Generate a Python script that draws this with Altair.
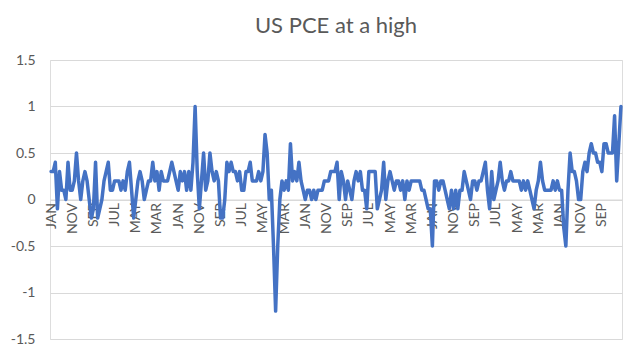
import altair as alt
import pandas as pd

months = ["JAN", "FEB", "MAR", "APR", "MAY", "JUN", "JUL", "AUG", "SEP", "OCT", "NOV", "DEC"]

pce_2000 = [0.3, 0.3, 0.4, -0.1, 0.3, 0.1, 0.1, 0.0, 0.4, 0.1, 0.1, 0.2]
pce_2001 = [0.5, 0.2, 0.0, 0.2, 0.3, 0.2, 0.0, -0.2, -0.1, 0.4, -0.2, -0.1]
pce_2002 = [0.0, 0.2, 0.3, 0.4, 0.1, 0.1, 0.2, 0.2, 0.2, 0.1, 0.2, 0.1]
pce_2003 = [0.3, 0.4, 0.1, -0.2, 0.0, 0.2, 0.3, 0.2, 0.0, 0.1, 0.2, 0.2]
pce_2004 = [0.4, 0.2, 0.3, 0.1, 0.3, 0.2, 0.2, 0.2, 0.3, 0.4, 0.3, 0.2]
pce_2005 = [0.1, 0.3, 0.2, 0.3, 0.1, 0.3, 0.1, 0.4, 1.0, 0.3, -0.1, 0.2]
pce_2006 = [0.5, 0.1, 0.2, 0.5, 0.3, 0.2, 0.3, 0.2, -0.2, -0.2, 0.0, 0.4]
pce_2007 = [0.3, 0.4, 0.3, 0.3, 0.2, 0.3, 0.1, 0.1, 0.3, 0.3, 0.4, 0.2]
pce_2008 = [0.2, 0.2, 0.3, 0.2, 0.3, 0.7, 0.5, 0.0, 0.1, -0.5, -1.2, -0.5]
pce_2009 = [0.0, 0.2, 0.1, 0.2, 0.1, 0.6, 0.2, 0.3, 0.2, 0.4, 0.2, 0.1]
pce_2010 = [0.0, 0.1, 0.1, 0.0, 0.1, 0.0, 0.1, 0.1, 0.1, 0.2, 0.2, 0.2]
pce_2011 = [0.3, 0.3, 0.3, 0.4, 0.0, 0.3, 0.2, 0.0, 0.2, 0.1, 0.0, 0.2]
pce_2012 = [0.3, 0.2, 0.3, 0.1, 0.1, -0.1, 0.3, 0.3, 0.3, 0.3, -0.1, 0.0]
pce_2013 = [0.1, 0.4, 0.0, 0.2, 0.3, 0.2, 0.1, 0.2, 0.2, 0.1, 0.2, 0.0]
pce_2014 = [0.2, 0.1, 0.2, 0.2, 0.2, 0.2, 0.2, 0.1, 0.1, 0.0, -0.1, -0.1]
pce_2015 = [-0.5, 0.2, 0.2, 0.1, 0.2, 0.2, 0.1, 0.0, -0.1, 0.1, -0.1, 0.1]
pce_2016 = [-0.1, 0.1, 0.1, 0.3, 0.2, 0.1, 0.0, 0.2, 0.2, 0.1, 0.2, 0.2]
pce_2017 = [0.3, 0.4, 0.1, -0.1, 0.3, 0.0, 0.1, 0.2, 0.4, 0.2, 0.1, 0.2]
pce_2018 = [0.2, 0.3, 0.2, 0.2, 0.2, 0.2, 0.1, 0.2, 0.1, 0.2, 0.1, 0.0]
pce_2019 = [-0.1, 0.1, 0.2, 0.4, 0.2, 0.1, 0.1, 0.1, 0.1, 0.2, 0.1, 0.2]
pce_2020 = [0.1, 0.1, -0.3, -0.5, 0.1, 0.5, 0.3, 0.3, 0.2, 0.0, 0.0, 0.3]
pce_2021 = [0.4, 0.3, 0.5, 0.6, 0.5, 0.5, 0.4, 0.4, 0.3, 0.6, 0.6, 0.5]
pce_2022 = [0.5, 0.5, 0.9, 0.2, 0.6, 1.0]

values = (pce_2000 + pce_2001 + pce_2002 + pce_2003 + pce_2004 + pce_2005 + pce_2006
          + pce_2007 + pce_2008 + pce_2009 + pce_2010 + pce_2011 + pce_2012 + pce_2013
          + pce_2014 + pce_2015 + pce_2016 + pce_2017 + pce_2018 + pce_2019 + pce_2020
          + pce_2021 + pce_2022)

n = len(values)
df = pd.DataFrame({
    "idx": list(range(n)),
    "pce": values,
    "month": [months[i % 12] for i in range(n)],
})

tick_idx = list(range(0, n, 10))
y_ticks = [-1.5, -1, -0.5, 0, 0.5, 1, 1.5]
label_expr = "[" + ",".join("'" + m + "'" for m in months) + "][datum.value % 12]"

W, H = 572, 279

chart = alt.Chart(df).mark_line(
    color="#4472C4", strokeWidth=3.5, strokeJoin="round", strokeCap="round"
).encode(
    x=alt.X(
        "idx:Q",
        scale=alt.Scale(domain=[-0.5, n - 0.5], nice=False, zero=False),
        axis=alt.Axis(
            values=tick_idx, labelExpr=label_expr, labelAngle=270, orient="bottom",
            offset=-H / 2, domain=True, domainColor="#D9D9D9", ticks=False, grid=False,
            labelColor="#595959", labelFontSize=14, labelFont="Lato", labelPadding=3,
            title=None, labelOverlap=False,
        ),
    ),
    y=alt.Y(
        "pce:Q",
        scale=alt.Scale(domain=[-1.5, 1.5], nice=False),
        axis=alt.Axis(
            values=y_ticks, labelExpr="'' + datum.value", domain=False, ticks=False,
            gridColor="#D9D9D9", labelColor="#595959", labelFontSize=14, labelFont="Lato",
            labelPadding=15, title=None,
        ),
    ),
).properties(
    width=W,
    height=H,
    title=alt.Title(
        "US PCE at a high", fontSize=22, color="#595959", font="Lato",
        fontWeight="normal", anchor="middle", frame="group", offset=15,
    ),
    autosize=alt.AutoSizeParams(type="none"),
    padding={"left": 42, "top": 52, "right": 10, "bottom": 13},
).configure_view(stroke=None).configure(background="white")

chart.save("out.html", embed_options={"renderer": "svg", "actions": False})
